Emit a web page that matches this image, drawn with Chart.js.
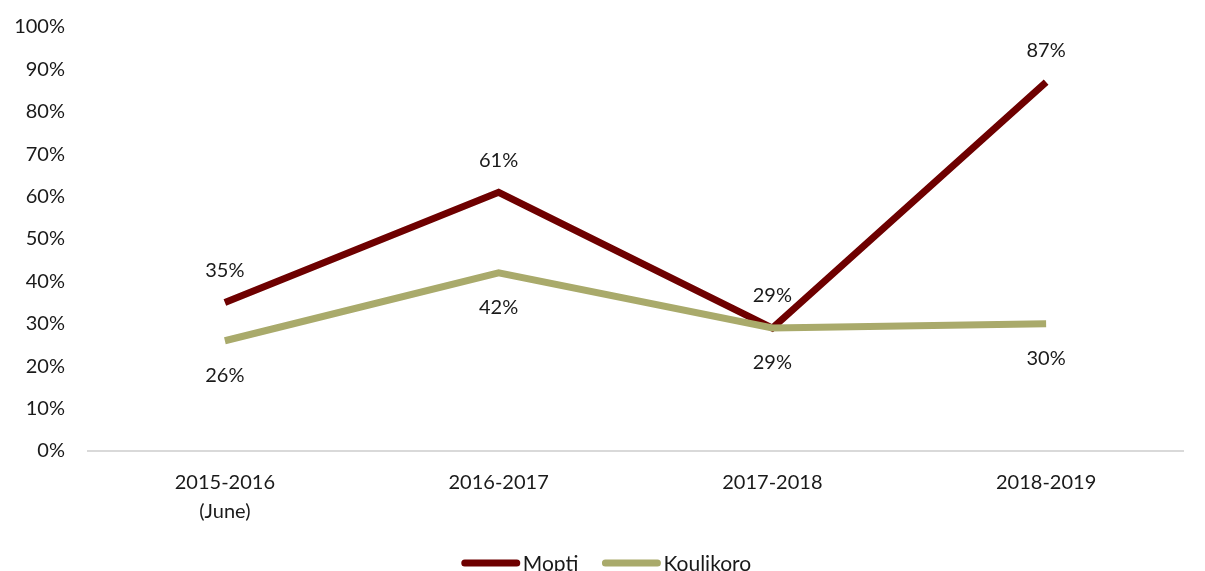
<!DOCTYPE html>
<html>
<head>
<meta charset="utf-8">
<script src="https://cdn.jsdelivr.net/npm/chart.js@4.4.1/dist/chart.umd.min.js"></script>
<style>
  html, body { margin: 0; padding: 0; background: #fff; overflow: hidden; }
  #chart { display: block; }
</style>
</head>
<body>
<canvas id="chart" width="1205" height="571"></canvas>
<script>
// season labels, values in percent
const seasons = [['2015-2016', '(June)'], '2016-2017', '2017-2018', '2018-2019'];
const mopti = [35, 61, 29, 87];
const koulikoro = [26, 42, 29, 30];
const yTicks = [0, 10, 20, 30, 40, 50, 60, 70, 80, 90, 100];

const FONT = 'Lato, "Open Sans", sans-serif';
const SIZE = 20;
const INK = '#1a1a1a';

// writes the value above or below each point
const pointLabels = {
  id: 'pointLabels',
  afterDatasetsDraw(chart) {
    const { ctx } = chart;
    ctx.save();
    ctx.font = SIZE + 'px ' + FONT;
    ctx.fillStyle = INK;
    ctx.textAlign = 'center';
    ctx.textBaseline = 'middle';
    chart.data.datasets.forEach((ds, i) => {
      const meta = chart.getDatasetMeta(i);
      meta.data.forEach((pt, j) => {
        ctx.fillText(ds.data[j] + '%', pt.x, pt.y + ds.labelShift);
      });
    });
    ctx.restore();
  },
};

// bottom legend: rounded line swatch followed by the series name
const lineLegend = {
  id: 'lineLegend',
  afterDraw(chart) {
    const { ctx } = chart;
    const swatch = 58, gap = 3, between = 24, y = 563;
    ctx.save();
    ctx.font = '21px ' + FONT;
    const items = chart.data.datasets.map((ds) => ({
      ds, w: ctx.measureText(ds.label).width,
    }));
    const total = items.reduce((s, it) => s + swatch + gap + it.w, 0) + between * (items.length - 1);
    let x = chart.width / 2 + 4 - total / 2;
    items.forEach(({ ds, w }) => {
      ctx.strokeStyle = ds.borderColor;
      ctx.lineWidth = 7;
      ctx.lineCap = 'round';
      ctx.beginPath();
      ctx.moveTo(x + 3, y);
      ctx.lineTo(x + swatch - 3, y);
      ctx.stroke();
      ctx.fillStyle = INK;
      ctx.textAlign = 'left';
      ctx.textBaseline = 'alphabetic';
      ctx.fillText(ds.label, x + swatch + gap, y + 8);
      x += swatch + gap + w + between;
    });
    ctx.restore();
  },
};

new Chart(document.getElementById('chart'), {
  type: 'line',
  data: {
    labels: seasons,
    datasets: [
      {
        label: 'Mopti',
        data: mopti,
        borderColor: '#6e0000',
        backgroundColor: '#6e0000',
        borderWidth: 7,
        pointRadius: 0,
        tension: 0,
        order: 1,
        labelShift: -32,
      },
      {
        label: 'Koulikoro',
        data: koulikoro,
        borderColor: '#a9aa6b',
        backgroundColor: '#a9aa6b',
        borderWidth: 7,
        pointRadius: 0,
        tension: 0,
        order: 0,
        labelShift: 35,
      },
    ],
  },
  options: {
    responsive: false,
    animation: false,
    layout: { padding: { top: 27, left: 10, right: 22, bottom: 28 } },
    scales: {
      x: {
        offset: true,
        grid: { display: false, drawTicks: false },
        border: { color: '#d9d9d9', width: 2 },
        ticks: {
          color: INK,
          font: { family: FONT, size: SIZE, lineHeight: 1.45 },
          padding: 17,
          maxRotation: 0,
        },
      },
      y: {
        min: 0,
        max: 100,
        afterBuildTicks(axis) {
          axis.ticks = yTicks.map((v) => ({ value: v }));
        },
        afterFit(axis) {
          axis.width = 78;
          axis.paddingTop = 0;
          axis.paddingBottom = 0;
        },
        grid: { display: false, drawTicks: false },
        border: { display: false },
        ticks: {
          color: INK,
          font: { family: FONT, size: SIZE },
          padding: 23,
          callback: (v) => v + '%',
        },
      },
    },
    plugins: {
      tooltip: { enabled: false },
      legend: { display: false },
    },
  },
  plugins: [pointLabels, lineLegend],
});
</script>
</body>
</html>
